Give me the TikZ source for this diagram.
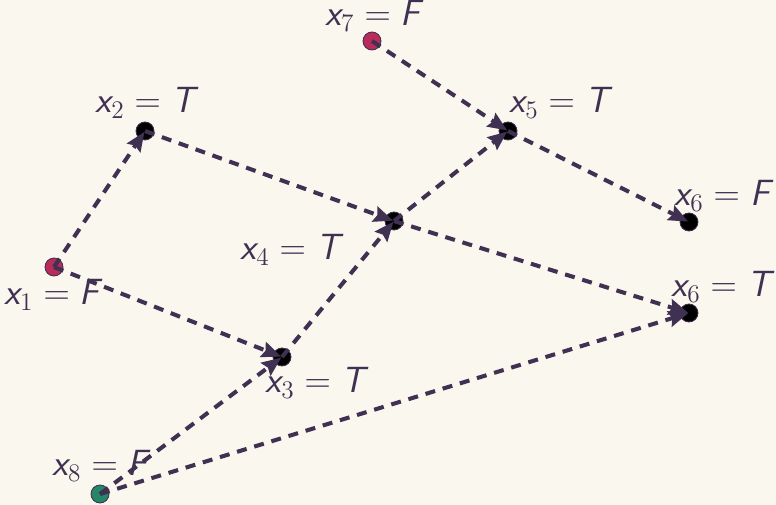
\documentclass[tikz,border=0pt]{standalone}
\usepackage{tikz}
\usetikzlibrary{
  arrows.meta,
  positioning,
  calc
}
\definecolor{netBg}{RGB}{250,247,238}
\definecolor{netInk}{RGB}{64,48,82}
\definecolor{netRed}{RGB}{185,44,90}
\definecolor{netGreen}{RGB}{38,134,104}

\newcommand{\assign}[2]{$\textsf{\itshape x}_{#1} = \textsf{\itshape #2}$}

\begin{document}
\begin{tikzpicture}[
  font=\huge,
  %% Variable dot (1-arg: fill colour)
  var/.style={
    circle,
    draw=netInk,
    fill=#1,
    line width=0.5pt,
    minimum size=0.36cm,
    inner sep=0pt
  },
  %% Assignment label
  lab/.style={
    text=netInk,
    inner sep=0pt
  },
  arr/.style={
    -{Stealth[length=11pt,width=9pt,inset=1.5pt]},
    netInk,
    line width=2.3pt,
    dash pattern=on 5.7pt off 4.5pt,
    shorten >=0.5pt
  }
]

\fill[netBg] (0,0) rectangle (15.52,10.10);
\useasboundingbox (0,0) rectangle (15.52,10.10);

%% ---- Variables ----
\node[var=netRed]   (x1)  at (1.08,4.76)  {};
\node[var=black]    (x2)  at (2.90,7.48)  {};
\node[var=black]    (x3)  at (5.64,2.96)  {};
\node[var=black]    (x4)  at (7.88,5.68)  {};
\node[var=black]    (x5)  at (10.16,7.48) {};
\node[var=black]    (x6f) at (13.78,5.66) {};
\node[var=black]    (x6t) at (13.78,3.84) {};
\node[var=netRed]   (x7)  at (7.44,9.28)  {};
\node[var=netGreen] (x8)  at (2.00,0.22)  {};

%% ---- Labels ----
\node[lab] (l1)  at ([shift={(-0.04,-0.56)}]x1)  {\assign{1}{F}};
\node[lab] (l2)  at ([shift={(0,0.56)}]x2)       {\assign{2}{T}};
\node[lab] (l3)  at ([shift={(0.66,-0.52)}]x3)   {\assign{3}{T}};
\node[lab] (l4)  at ([shift={(-2.08,-0.58)}]x4)  {\assign{4}{T}};
\node[lab] (l5)  at ([shift={(1.02,0.56)}]x5)    {\assign{5}{T}};
\node[lab] (l6f) at ([shift={(0.66,0.52)}]x6f)   {\assign{6}{F}};
\node[lab] (l6t) at ([shift={(0.64,0.52)}]x6t)   {\assign{6}{T}};
\node[lab] (l7)  at ([shift={(0.02,0.50)}]x7)    {\assign{7}{F}};
\node[lab] (l8)  at ([shift={(0,0.56)}]x8)       {\assign{8}{F}};

%% ---- Implications ----
\draw[arr] (x1.center) -- (x2.center);
\draw[arr] (x1.center) -- (x3.center);
\draw[arr] (x2.center) -- (x4.center);
\draw[arr] (x3.center) -- (x4.center);
\draw[arr] (x4.center) -- (x5.center);
\draw[arr] (x4.center) -- (x6t.center);
\draw[arr] (x5.center) -- (x6f.center);
\draw[arr] (x7.center) -- (x5.center);
\draw[arr] (x8.center) -- (x3.center);
\draw[arr] (x8.center) -- (x6t.center);

\end{tikzpicture}
\end{document}
